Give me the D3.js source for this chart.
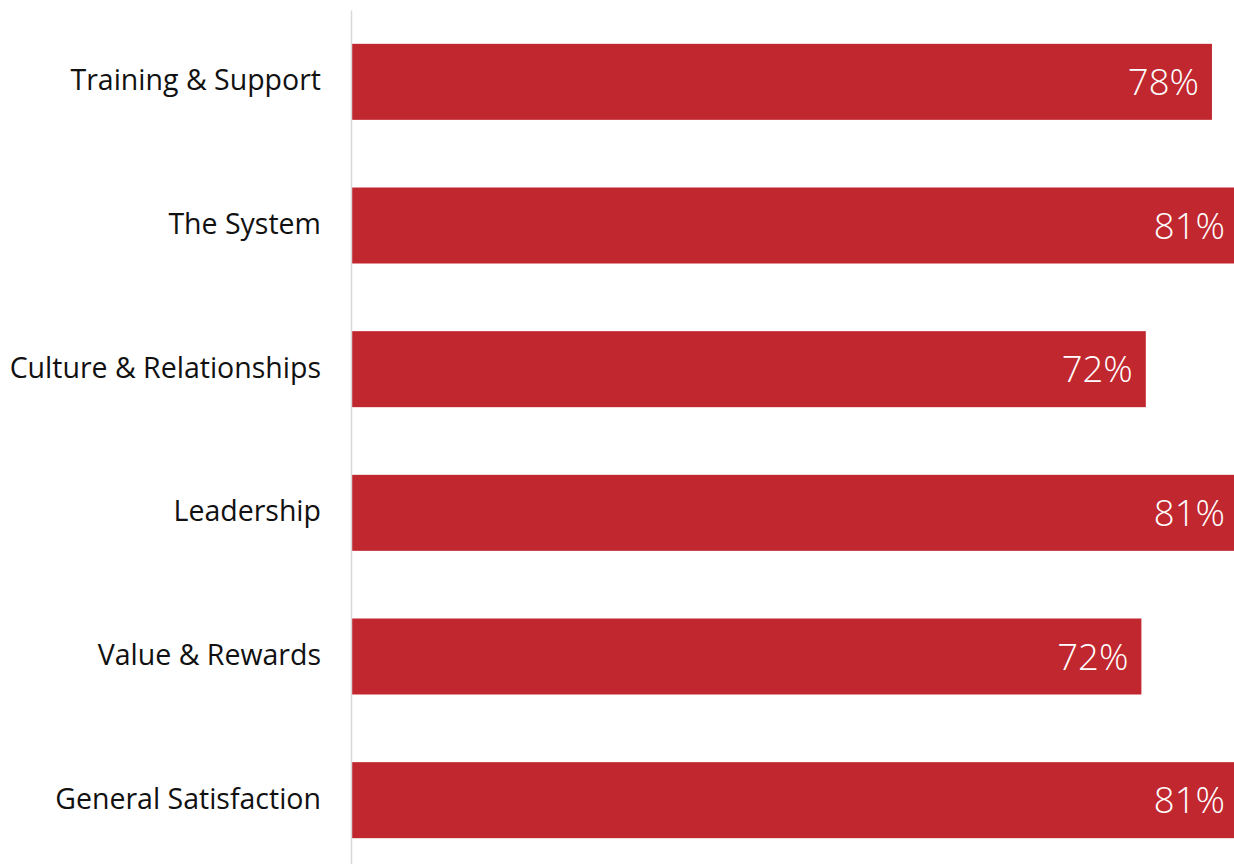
<!DOCTYPE html>
<html>
<head>
<meta charset="utf-8">
<script src="https://cdn.jsdelivr.net/npm/d3@7"></script>
<style>
  html, body { margin: 0; padding: 0; background: #ffffff; overflow: hidden; }
  svg { display: block; }
</style>
</head>
<body>
<svg id="chart" width="1234" height="864"></svg>
<script>
// Survey satisfaction scores by category (percent agreeing)
const categories = [
  "Training & Support",
  "The System",
  "Culture & Relationships",
  "Leadership",
  "Value & Rewards",
  "General Satisfaction"
];
const scores = [78.0, 81.0, 72.0, 81.0, 71.6, 81.0];
// Value axis runs to 80%; longer bars run past the right edge
const scoreDomain = [0, 80];

const W = 1234, H = 864;
const plotLeft = 352, plotRight = 1234, plotTop = 10, plotBottom = 872;

const svg = d3.select("#chart");

const x = d3.scaleLinear().domain(scoreDomain).range([plotLeft, plotRight]);
const y = d3.scaleBand()
  .domain(categories)
  .range([plotTop, plotBottom])
  .paddingInner(0.471)
  .paddingOuter(0.2355);

const data = categories.map((c, i) => ({ category: c, value: scores[i] }));
const fmt = v => d3.format(".0f")(v) + "%";

// bars
svg.append("g")
  .selectAll("rect")
  .data(data)
  .join("rect")
  .attr("x", x(0))
  .attr("y", d => y(d.category))
  .attr("width", d => x(d.value) - x(0))
  .attr("height", y.bandwidth())
  .attr("fill", "#c1272f");

// category axis (vertical line, no ticks)
const yAxis = d3.axisLeft(y).tickSize(0).tickPadding(30);
const gy = svg.append("g")
  .attr("transform", `translate(${plotLeft - 1},0)`)
  .call(yAxis);
gy.select(".domain").attr("stroke", "#d9d9d9").attr("stroke-width", 1.5);
gy.selectAll(".tick text")
  .attr("font-family", "'Open Sans', sans-serif")
  .attr("font-size", 28.5)
  .attr("fill", "#111111")
  .attr("dy", "0.3em");

// value labels inside bar ends
svg.append("g")
  .selectAll("text")
  .data(data)
  .join("text")
  .attr("x", d => Math.min(x(d.value) - 13, W - 9))
  .attr("y", d => y(d.category) + y.bandwidth() / 2)
  .attr("dy", "0.36em")
  .attr("text-anchor", "end")
  .attr("font-family", "'Open Sans', sans-serif")
  .attr("font-weight", 300)
  .attr("font-size", 36.5)
  .attr("fill", "#ffffff")
  .text(d => fmt(d.value));
</script>
</body>
</html>
